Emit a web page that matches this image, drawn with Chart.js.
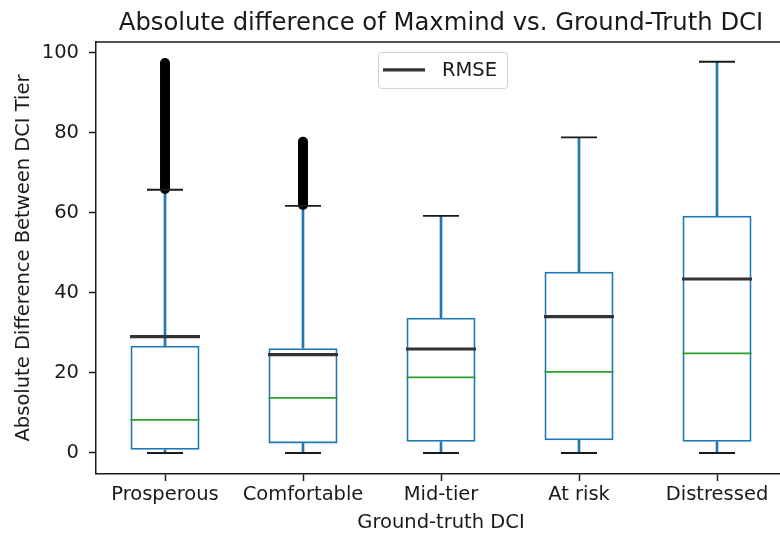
<!DOCTYPE html>
<html>
<head>
<meta charset="utf-8">
<script src="https://cdn.jsdelivr.net/npm/chart.js@4/dist/chart.umd.min.js"></script>
<style>
  html, body { margin: 0; padding: 0; background: #fff; overflow: hidden; width: 780px; height: 535px; }
  canvas { display: block; }
</style>
</head>
<body>
<canvas id="c" width="882" height="535"></canvas>
<script>
// ---- data ----
const categories = ['Prosperous', 'Comfortable', 'Mid-tier', 'At risk', 'Distressed'];
const whiskerLow  = [0, 0, 0, 0, 0];
const q1          = [0.8, 2.4, 2.8, 3.2, 2.8];
const medians     = [8.3, 13.8, 18.9, 20.3, 24.9];
const q3          = [26.8, 26.2, 33.8, 45.3, 59.3];
const whiskerHigh = [65.8, 61.8, 59.3, 78.9, 97.8];
const rmse        = [29.1, 24.6, 26.0, 34.1, 43.5];
const prosperousFliers = [66, 66.5, 67, 67.5, 68, 68.5, 69, 69.5, 70, 70.5, 71, 71.5, 72, 72.5, 73, 73.5, 74, 74.5, 75, 75.5, 76, 76.5, 77, 77.5, 78, 78.5, 79, 79.5, 80, 80.5, 81, 81.5, 82, 82.5, 83, 83.5, 84, 84.5, 85, 85.5, 86, 86.5, 87, 87.5, 88, 88.5, 89, 89.5, 90, 90.5, 91, 91.5, 92, 92.5, 93, 93.5, 94, 94.5, 95, 95.5, 96, 96.5, 97, 97.5];
const comfortableFliers = [62, 62.5, 63, 63.5, 64, 64.5, 65, 65.5, 66, 66.5, 67, 67.5, 68, 68.5, 69, 69.5, 70, 70.5, 71, 71.5, 72, 72.5, 73, 73.5, 74, 74.5, 75, 75.5, 76, 76.5, 77, 77.5, 77.8];
const yTicks = [0, 20, 40, 60, 80, 100];

const TXT = '#1a1a1a';
const BLUE = '#1f77b4';
const GREEN = '#2ca02c';
const FONT = 'DejaVu Sans';

Chart.defaults.color = TXT;
Chart.defaults.font.family = FONT;

const fliers = prosperousFliers.map(v => ({x: categories[0], y: v}))
  .concat(comfortableFliers.map(v => ({x: categories[1], y: v})));

const frameLegend = {
  id: 'frameLegend',
  afterDatasetsDraw(chart) {
    const ctx = chart.ctx, a = chart.chartArea;
    ctx.save();
    // top spine
    ctx.strokeStyle = TXT;
    ctx.lineWidth = 1.5;
    ctx.beginPath();
    ctx.moveTo(a.left - 0.75, a.top);
    ctx.lineTo(a.right, a.top);
    ctx.stroke();
    // legend (upper center, framed)
    const ds = chart.data.datasets.find(d => d.showInLegend);
    const w = 129, h = 36;
    const lx = (a.left + a.right) / 2 - w / 2 + 1.5;
    const ly = a.top + 10;
    ctx.fillStyle = 'rgba(255,255,255,0.8)';
    ctx.strokeStyle = '#d0d0d0';
    ctx.lineWidth = 1;
    ctx.beginPath();
    ctx.roundRect(lx + 0.5, ly + 0.5, w, h, 3);
    ctx.fill();
    ctx.stroke();
    ctx.strokeStyle = ds.pointBorderColor;
    ctx.lineWidth = ds.pointBorderWidth;
    ctx.beginPath();
    ctx.moveTo(lx + 5, ly + h / 2);
    ctx.lineTo(lx + 47, ly + h / 2);
    ctx.stroke();
    ctx.fillStyle = TXT;
    ctx.font = '19.5px "' + FONT + '"';
    ctx.textBaseline = 'middle';
    ctx.textAlign = 'left';
    ctx.fillText(ds.label, lx + 64, ly + h / 2 + 1);
    ctx.restore();
  }
};

new Chart(document.getElementById('c'), {
  type: 'bar',
  data: {
    labels: categories,
    datasets: [
      {
        type: 'bar', label: 'whisker-low', order: 5, grouped: false,
        data: categories.map((c, i) => [whiskerLow[i], q1[i]]),
        backgroundColor: BLUE, borderWidth: 0, barThickness: 2
      },
      {
        type: 'bar', label: 'whisker-high', order: 5, grouped: false,
        data: categories.map((c, i) => [q3[i], whiskerHigh[i]]),
        backgroundColor: BLUE, borderWidth: 0, barThickness: 2
      },
      {
        type: 'bar', label: 'box', order: 4, grouped: false,
        data: categories.map((c, i) => [q1[i], q3[i]]),
        backgroundColor: 'rgba(0,0,0,0)', borderColor: BLUE, borderWidth: 1.8,
        borderSkipped: false, barPercentage: 0.5, categoryPercentage: 1
      },
      {
        type: 'line', label: 'fliers', order: 3, showLine: false,
        data: fliers,
        pointStyle: 'circle', pointRadius: 5, pointBackgroundColor: '#000',
        pointBorderColor: '#000', pointBorderWidth: 0, pointHoverRadius: 5
      },
      {
        type: 'line', label: 'cap-low', order: 2, showLine: false,
        data: whiskerLow,
        pointStyle: 'line', pointRadius: 18, pointBorderColor: '#1a1a1a', borderColor: '#1a1a1a',
        pointBorderWidth: 1.8, pointHoverRadius: 18
      },
      {
        type: 'line', label: 'cap-high', order: 2, showLine: false,
        data: whiskerHigh,
        pointStyle: 'line', pointRadius: 18, pointBorderColor: '#1a1a1a', borderColor: '#1a1a1a',
        pointBorderWidth: 1.8, pointHoverRadius: 18
      },
      {
        type: 'line', label: 'median', order: 1, showLine: false,
        data: medians,
        pointStyle: 'line', pointRadius: 34.5, pointBorderColor: GREEN, borderColor: GREEN,
        pointBorderWidth: 1.8, pointHoverRadius: 34.5
      },
      {
        type: 'line', label: 'RMSE', order: 0, showLine: false, showInLegend: true,
        data: rmse,
        pointStyle: 'line', pointRadius: 35, pointBorderColor: '#333333', borderColor: '#333333',
        pointBorderWidth: 3.2, pointHoverRadius: 35
      }
    ]
  },
  options: {
    responsive: false,
    animation: false,
    events: [],
    layout: { padding: 0 },
    plugins: {
      legend: { display: false },
      tooltip: { enabled: false },
      title: {
        display: true,
        text: 'Absolute difference of Maxmind vs. Ground-Truth DCI',
        color: TXT,
        font: { family: FONT, size: 24.3, weight: 'normal' },
        padding: { top: 9, bottom: 3.8 }
      }
    },
    scales: {
      x: {
        type: 'category',
        offset: true,
        grid: { display: true, drawOnChartArea: false, offset: false, drawTicks: true, tickLength: 7, tickColor: TXT, tickWidth: 1.5 },
        border: { display: true, color: TXT, width: 1.5 },
        ticks: { color: TXT, font: { family: FONT, size: 19.5 }, padding: 2.5, maxRotation: 0, autoSkip: false },
        title: { display: true, text: 'Ground-truth DCI', color: TXT, font: { family: FONT, size: 19.5 }, padding: { top: 0, bottom: 0 } },
        afterFit(s) { s.height = 61; s.paddingLeft = 0; s.paddingRight = 0; }
      },
      y: {
        type: 'linear',
        position: 'left',
        min: -5.25,
        max: 102.75,
        grid: { display: true, drawOnChartArea: false, drawTicks: true, tickLength: 7, tickColor: TXT, tickWidth: 1.5 },
        border: { display: true, color: TXT, width: 1.5 },
        afterBuildTicks(s) { s.ticks = yTicks.map(v => ({ value: v })); },
        ticks: { color: TXT, font: { family: FONT, size: 19.5 }, padding: 10 },
        title: { display: true, text: 'Absolute Difference Between DCI Tier', color: TXT, font: { family: FONT, size: 19.5 }, padding: { top: 12, bottom: 0 } },
        afterFit(s) { s.width = 96; s.paddingTop = 0; s.paddingBottom = 0; }
      },
      yRight: {
        type: 'linear',
        position: 'right',
        display: true,
        min: -5.25,
        max: 102.75,
        grid: { display: false },
        border: { display: false },
        ticks: { display: false },
        title: { display: false },
        afterFit(s) { s.width = 96; s.paddingTop = 0; s.paddingBottom = 0; }
      }
    }
  },
  plugins: [frameLegend]
});
</script>
</body>
</html>
